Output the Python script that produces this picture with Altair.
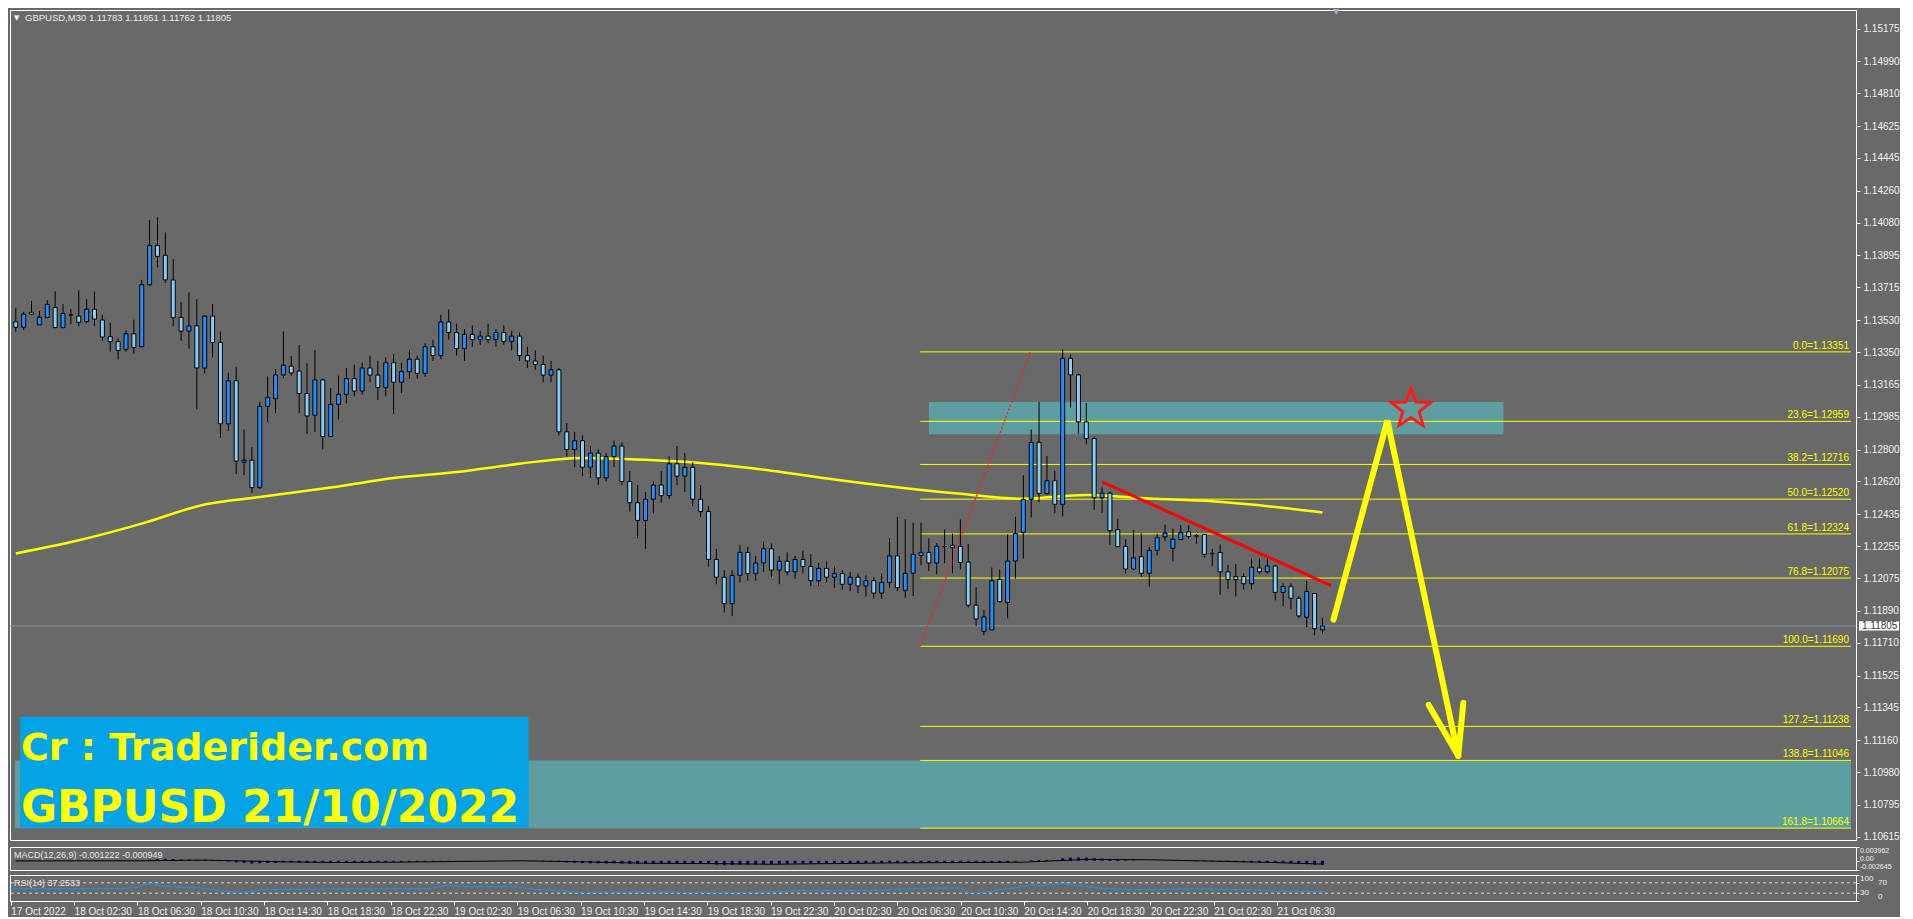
import altair as alt
import pandas as pd

# ---------------- data ----------------
time_labels = ["17 Oct 2022", "18 Oct 02:30", "18 Oct 06:30", "18 Oct 10:30", "18 Oct 14:30",
               "18 Oct 18:30", "18 Oct 22:30", "19 Oct 02:30", "19 Oct 06:30", "19 Oct 10:30",
               "19 Oct 14:30", "19 Oct 18:30", "19 Oct 22:30", "20 Oct 02:30", "20 Oct 06:30",
               "20 Oct 10:30", "20 Oct 14:30", "20 Oct 18:30", "20 Oct 22:30", "21 Oct 02:30",
               "21 Oct 06:30"]
label_bars = [0, 8, 16, 24, 32, 40, 48, 56, 64, 72, 80, 88, 96, 104, 112, 120, 128, 136, 144, 152, 160]

price_ticks = [1.15175, 1.14990, 1.14810, 1.14625, 1.14445, 1.14260, 1.14080, 1.13895, 1.13715,
               1.13530, 1.13350, 1.13165, 1.12985, 1.12800, 1.12620, 1.12435, 1.12255, 1.12075,
               1.11890, 1.11710, 1.11525, 1.11345, 1.11160, 1.10980, 1.10795, 1.10615]

opens = [
    1.13521, 1.13490, 1.13575, 1.13503, 1.13545, 1.13601, 1.13488, 1.13560, 1.13553, 1.13521,
    1.13592, 1.13531, 1.13437, 1.13409, 1.13365, 1.13453, 1.13380, 1.13730, 1.13951, 1.13896,
    1.13757, 1.13545, 1.13468, 1.13498, 1.13260, 1.13553, 1.13404, 1.12945, 1.13188, 1.12729,
    1.12740, 1.12585, 1.13044, 1.13088, 1.13221, 1.13271, 1.13243, 1.13116, 1.12994, 1.13193,
    1.12873, 1.13055, 1.13111, 1.13200, 1.13130, 1.13260, 1.13220, 1.13150, 1.13290, 1.13180,
    1.13240, 1.13310, 1.13230, 1.13380, 1.13330, 1.13520, 1.13460, 1.13370, 1.13450, 1.13420,
    1.13440, 1.13420, 1.13460, 1.13410, 1.13440, 1.13330, 1.13300, 1.13280, 1.13220, 1.13250,
    1.12900, 1.12800, 1.12850, 1.12700, 1.12780, 1.12640, 1.12760, 1.12820, 1.12620, 1.12500,
    1.12400, 1.12520, 1.12600, 1.12540, 1.12720, 1.12650, 1.12700, 1.12520, 1.12450, 1.12180,
    1.12080, 1.11930, 1.12090, 1.12220, 1.12100, 1.12160, 1.12240, 1.12120, 1.12170, 1.12110,
    1.12180, 1.12140, 1.12060, 1.12130, 1.12080, 1.12100, 1.12040, 1.12080, 1.12030, 1.12060,
    1.11990, 1.12050, 1.12200, 1.12005, 1.12102, 1.12202, 1.12220, 1.12160, 1.12252, 1.12259,
    1.12254, 1.12165, 1.11922, 1.11774, 1.11782, 1.12068, 1.11937, 1.12171, 1.12333, 1.12519,
    1.12840, 1.12552, 1.12624, 1.12491, 1.13315, 1.13221, 1.12956, 1.12862, 1.12528, 1.12554,
    1.12348, 1.12254, 1.12126, 1.12195, 1.12102, 1.12231, 1.12307, 1.12243, 1.12292, 1.12336,
    1.12313, 1.12320, 1.12213, 1.12219, 1.12110, 1.12083, 1.12084, 1.12043, 1.12132, 1.12110,
    1.12143, 1.11994, 1.12027, 1.11961, 1.11854, 1.11988, 1.11783]
highs = [
    1.13599, 1.13577, 1.13638, 1.13582, 1.13643, 1.13693, 1.13621, 1.13593, 1.13698, 1.13649,
    1.13691, 1.13560, 1.13516, 1.13428, 1.13472, 1.13533, 1.13757, 1.14096, 1.14111, 1.14025,
    1.13875, 1.13632, 1.13687, 1.13649, 1.13558, 1.13621, 1.13466, 1.13234, 1.13267, 1.12913,
    1.12814, 1.13070, 1.13212, 1.13254, 1.13466, 1.13328, 1.13389, 1.13287, 1.13361, 1.13201,
    1.13146, 1.13217, 1.13260, 1.13280, 1.13290, 1.13330, 1.13300, 1.13320, 1.13340, 1.13290,
    1.13360, 1.13330, 1.13400, 1.13420, 1.13560, 1.13590, 1.13510, 1.13480, 1.13500, 1.13470,
    1.13510, 1.13480, 1.13500, 1.13470, 1.13460, 1.13380, 1.13360, 1.13330, 1.13300, 1.13260,
    1.12950, 1.12900, 1.12880, 1.12820, 1.12800, 1.12780, 1.12850, 1.12840, 1.12680, 1.12600,
    1.12560, 1.12620, 1.12680, 1.12760, 1.12820, 1.12780, 1.12730, 1.12600, 1.12480, 1.12240,
    1.12120, 1.12120, 1.12260, 1.12250, 1.12200, 1.12280, 1.12270, 1.12200, 1.12220, 1.12200,
    1.12230, 1.12210, 1.12160, 1.12170, 1.12140, 1.12120, 1.12110, 1.12100, 1.12090, 1.12080,
    1.12100, 1.12300, 1.12420, 1.12407, 1.12388, 1.12388, 1.12300, 1.12272, 1.12349, 1.12326,
    1.12405, 1.12266, 1.12023, 1.11896, 1.12134, 1.12123, 1.12322, 1.12421, 1.12655, 1.12913,
    1.13068, 1.12764, 1.12681, 1.13365, 1.13337, 1.13227, 1.13063, 1.12873, 1.12587, 1.12563,
    1.12410, 1.12294, 1.12346, 1.12327, 1.12250, 1.12324, 1.12377, 1.12355, 1.12373, 1.12373,
    1.12324, 1.12320, 1.12239, 1.12265, 1.12150, 1.12154, 1.12102, 1.12184, 1.12184, 1.12198,
    1.12150, 1.12045, 1.12045, 1.11973, 1.12060, 1.11988, 1.11851]
lows = [
    1.13462, 1.13474, 1.13557, 1.13503, 1.13545, 1.13485, 1.13485, 1.13507, 1.13496, 1.13514,
    1.13496, 1.13413, 1.13352, 1.13308, 1.13352, 1.13341, 1.13380, 1.13722, 1.13828, 1.13739,
    1.13496, 1.13413, 1.13369, 1.13026, 1.13230, 1.13319, 1.12865, 1.12904, 1.12661, 1.12655,
    1.12556, 1.12578, 1.12954, 1.13006, 1.13203, 1.13216, 1.13006, 1.12888, 1.12899, 1.12801,
    1.12873, 1.12970, 1.13060, 1.13100, 1.13110, 1.13180, 1.13080, 1.13100, 1.13000, 1.13120,
    1.13200, 1.13200, 1.13210, 1.13300, 1.13310, 1.13420, 1.13330, 1.13300, 1.13380, 1.13390,
    1.13400, 1.13380, 1.13390, 1.13360, 1.13300, 1.13260, 1.13250, 1.13180, 1.13180, 1.12880,
    1.12760, 1.12700, 1.12650, 1.12640, 1.12600, 1.12620, 1.12700, 1.12600, 1.12450, 1.12300,
    1.12240, 1.12440, 1.12500, 1.12520, 1.12600, 1.12560, 1.12480, 1.12420, 1.12140, 1.12040,
    1.11880, 1.11860, 1.12050, 1.12060, 1.12060, 1.12110, 1.12080, 1.12040, 1.12090, 1.12070,
    1.12100, 1.12030, 1.12030, 1.12050, 1.12020, 1.12010, 1.12000, 1.11990, 1.11970, 1.11960,
    1.11960, 1.12020, 1.12000, 1.11964, 1.11973, 1.12147, 1.12115, 1.12097, 1.12158, 1.12101,
    1.12123, 1.11909, 1.11804, 1.11752, 1.11782, 1.11937, 1.11848, 1.12071, 1.12185, 1.12416,
    1.12502, 1.12545, 1.12440, 1.12423, 1.13037, 1.12888, 1.12830, 1.12460, 1.12443, 1.12263,
    1.12252, 1.12101, 1.12119, 1.12082, 1.12027, 1.12202, 1.12285, 1.12169, 1.12292, 1.12296,
    1.12268, 1.12191, 1.12141, 1.11981, 1.12014, 1.11972, 1.12010, 1.12010, 1.12099, 1.12101,
    1.11949, 1.11916, 1.11898, 1.11848, 1.11798, 1.11752, 1.11762]
closes = [
    1.13490, 1.13564, 1.13564, 1.13547, 1.13619, 1.13488, 1.13568, 1.13560, 1.13518, 1.13592,
    1.13536, 1.13435, 1.13409, 1.13359, 1.13453, 1.13376, 1.13730, 1.13951, 1.13890, 1.13757,
    1.13545, 1.13468, 1.13498, 1.13260, 1.13553, 1.13404, 1.12945, 1.13188, 1.12735, 1.12740,
    1.12585, 1.13044, 1.13094, 1.13221, 1.13276, 1.13232, 1.13116, 1.12989, 1.13193, 1.12873,
    1.13055, 1.13111, 1.13200, 1.13130, 1.13260, 1.13220, 1.13150, 1.13290, 1.13180, 1.13240,
    1.13310, 1.13230, 1.13380, 1.13330, 1.13520, 1.13460, 1.13370, 1.13450, 1.13420, 1.13440,
    1.13420, 1.13460, 1.13410, 1.13440, 1.13330, 1.13300, 1.13280, 1.13220, 1.13250, 1.12900,
    1.12800, 1.12850, 1.12700, 1.12780, 1.12640, 1.12760, 1.12820, 1.12620, 1.12500, 1.12400,
    1.12520, 1.12600, 1.12540, 1.12720, 1.12650, 1.12700, 1.12520, 1.12450, 1.12180, 1.12080,
    1.11930, 1.12090, 1.12220, 1.12100, 1.12160, 1.12240, 1.12120, 1.12170, 1.12110, 1.12180,
    1.12140, 1.12060, 1.12130, 1.12080, 1.12100, 1.12040, 1.12080, 1.12030, 1.12060, 1.11990,
    1.12050, 1.12200, 1.12020, 1.12102, 1.12209, 1.12220, 1.12160, 1.12254, 1.12252, 1.12246,
    1.12163, 1.11922, 1.11844, 1.11856, 1.12060, 1.11942, 1.12171, 1.12326, 1.12519, 1.12840,
    1.12552, 1.12624, 1.12491, 1.13315, 1.13221, 1.12956, 1.12862, 1.12528, 1.12554, 1.12342,
    1.12252, 1.12126, 1.12189, 1.12102, 1.12231, 1.12303, 1.12329, 1.12294, 1.12331, 1.12309,
    1.12313, 1.12209, 1.12213, 1.12110, 1.12066, 1.12066, 1.12043, 1.12136, 1.12110, 1.12143,
    1.11994, 1.12027, 1.11961, 1.11861, 1.11999, 1.11789, 1.11805]

ma_bars = [0, 8, 16, 24, 31, 41, 48, 56, 64, 72, 80, 88, 96, 104, 112, 120, 128, 136, 144, 152, 160, 166]
ma_vals = [1.12214, 1.12288, 1.12382, 1.12490, 1.12532, 1.12592, 1.12639, 1.12673, 1.12720, 1.12753,
           1.12742, 1.12720, 1.12681, 1.12631, 1.12587, 1.12550, 1.12522, 1.12544, 1.12524, 1.12508,
           1.12476, 1.12445]

fib_names = ["0.0", "23.6", "38.2", "50.0", "61.8", "76.8", "100.0", "127.2", "138.8", "161.8"]
fib_levels = [1.13351, 1.12959, 1.12716, 1.12520, 1.12324, 1.12075, 1.11690, 1.11238, 1.11046, 1.10664]
fib_start_bar = 114.9
fib_anchor_bars = [114.9, 128.9]
fib_anchor_prices = [1.11690, 1.13351]

zone_from = [116.0, -0.1]
zone_to = [189.0, 233.15]
zone_low = [1.12886, 1.10664]
zone_high = [1.13068, 1.11046]

trend_bars = [138.0, 167.1]
trend_prices = [1.12618, 1.12032]

arrow_seg = ["path", "path", "path", "barbL", "barbL", "barbR", "barbR"]
arrow_bars = [167.4, 174.25, 183.25, 179.5, 183.25, 183.9, 183.25]
arrow_prices = [1.11840, 1.12963, 1.11072, 1.11359, 1.11072, 1.11370, 1.11072]

star_bar = [177.25]
star_price = [1.13029]

shift_marker_bar = [167.75]

current_price = 1.11805
title_text = "GBPUSD,M30  1.11783 1.11851 1.11762 1.11805"

wm_box_bars = [0.55, 65.15]
wm_box_prices = [1.10668, 1.11293]
wm_lines = ["Cr : Traderider.com", "GBPUSD 21/10/2022"]
wm_line_prices = [1.11050, 1.10701]

macd_main = [
    -0.00010, -0.00008, -0.00005, -0.00004, -0.00002, 0.00000, 0.00002, 0.00003, 0.00005, 0.00007,
    0.00008, 0.00005, 0.00000, -0.00004, -0.00006, -0.00008,
    0.00005, 0.00030, 0.00050, 0.00058, 0.00050, 0.00040, 0.00035,
    0.00020, 0.00025, 0.00015, -0.00015, -0.00020, -0.00045, -0.00060, -0.00080,
    -0.00070, -0.00065, -0.00060, -0.00050, -0.00048, -0.00050, -0.00060, -0.00055, -0.00062, -0.00060,
    -0.00055, -0.00050, -0.00045, -0.00040, -0.00035,
    -0.00032, -0.00030, -0.00030, -0.00028, -0.00025, -0.00022, -0.00018, -0.00015, -0.00008, -0.00005,
    -0.00004, -0.00003, -0.00002, -0.00001, 0.00000, 0.00001, 0.00001, 0.00000, -0.00002, -0.00004,
    -0.00006, -0.00008, -0.00010,
    -0.00030, -0.00045, -0.00055, -0.00065, -0.00070, -0.00075, -0.00075, -0.00072, -0.00078, -0.00085,
    -0.00095, -0.00090, -0.00085, -0.00082, -0.00075, -0.00072, -0.00068, -0.00072, -0.00078, -0.00095,
    -0.00110, -0.00125,
    -0.00120, -0.00112, -0.00108, -0.00102, -0.00095, -0.00092, -0.00088, -0.00085, -0.00080, -0.00078,
    -0.00076, -0.00072, -0.00070, -0.00068, -0.00066, -0.00064, -0.00062, -0.00060, -0.00060, -0.00058,
    -0.00050, -0.00052,
    -0.00055, -0.00052, -0.00048, -0.00046, -0.00042, -0.00040, -0.00038, -0.00038, -0.00050, -0.00060,
    -0.00065, -0.00050, -0.00048, -0.00035, -0.00022, -0.00005, 0.00020, 0.00025, 0.00028, 0.00025,
    0.00070, 0.00090, 0.00095, 0.00092, 0.00075, 0.00062, 0.00045, 0.00030, 0.00018, 0.00008,
    0.00000, -0.00002, -0.00003, -0.00004, -0.00005, -0.00006, -0.00008, -0.00010, -0.00014, -0.00018,
    -0.00025, -0.00030, -0.00036, -0.00040, -0.00042, -0.00045, -0.00050, -0.00060, -0.00068, -0.00078,
    -0.00090, -0.00098, -0.00110, -0.00122]
sig_bars = [0, 8, 16, 24, 32, 40, 48, 56, 64, 72, 80, 88, 96, 104, 112, 120, 128, 136, 144, 152, 160, 166]
sig_vals = [-0.00005, 0.00000, 0.00000, 0.00020, -0.00020, -0.00050, -0.00040, -0.00020, 0.00000, -0.00030,
            -0.00070, -0.00080, -0.00100, -0.00080, -0.00060, -0.00050, -0.00040, 0.00040, 0.00030, -0.00010,
            -0.00050, -0.00095]
macd_ticks = [0.003962, 0.0, -0.002645]
macd_tick_labels = ["0.003962", "0.00", "-0.002645"]
macd_title = "MACD(12,26,9) -0.001222 -0.000949"

rsi_bars = [0, 8, 14, 16, 17, 18, 19, 22, 24, 27, 29, 30, 32, 36, 40, 48, 53, 55, 57, 60, 64, 66, 70, 72,
            74, 80, 86, 90, 95, 100, 108, 112, 116, 120, 121, 123, 125, 128, 129, 130, 131, 133, 134, 136,
            138, 142, 146, 150, 154, 158, 160, 163, 165, 166]
rsi_vals = [47, 47, 48, 52, 66, 66, 58, 52, 50, 37, 33, 34, 44, 45, 46, 47, 47, 60, 55, 55, 55, 45, 38, 32,
            34, 35, 33, 32, 34, 40, 40, 45, 50, 50, 33, 32, 44, 55, 62, 58, 62, 68, 62, 56,
            48, 44, 45, 47, 44, 42, 38, 37, 36, 37.25]
rsi_levels = [70, 30]
rsi_ticks = [100, 70, 30, 0]
rsi_tick_labels = ["100", "70", "30", "0"]
rsi_title = "RSI(14) 37.2533"

# ---------------- layout / style ----------------
W = 1846
H_PRICE = 830
H_MACD = 23
H_RSI = 26
X_MIN, X_MAX = -0.1, 233.15
P_MIN, P_MAX = 1.10597, 1.15280
BG = "#696969"
FONT = "Liberation Sans"
YELLOW = "#ffff00"
LABEL_COLOR = "#f2f2f2"
AX = dict(title=None, labelFont=FONT, labelColor=LABEL_COLOR, tickColor="#ffffff",
          domainColor="#ffffff", labelOverlap=False, grid=False)

xsc = alt.Scale(domain=[X_MIN, X_MAX], nice=False, zero=False)
psc = alt.Scale(domain=[P_MIN, P_MAX], nice=False, zero=False)
price_axis = alt.Axis(orient="right", values=price_ticks, format=".5f", tickSize=4, labelPadding=3,
                      labelFontSize=10, **AX)


def X(f):
    return alt.X(f, type="quantitative", scale=xsc, axis=None)


def Y(f):
    return alt.Y(f, type="quantitative", scale=psc, axis=price_axis)


N = len(opens)
candles = pd.DataFrame({"i": list(range(N)), "o": opens, "h": highs, "l": lows, "c": closes})
candles["dir"] = ["up" if c >= o else "down" for o, c in zip(opens, closes)]

zones = pd.DataFrame({"x0": zone_from, "x1": zone_to, "y0": zone_low, "y1": zone_high})
zone_layer = alt.Chart(zones).mark_rect(color="#5f9ea0").encode(
    x=X("x0"), x2="x1", y=Y("y0"), y2="y1")

cur_df = pd.DataFrame({"p": [current_price]})
cur_line = alt.Chart(cur_df).mark_rule(color="#8e98a6", strokeWidth=1).encode(y=Y("p"))

ma_df = pd.DataFrame({"i": ma_bars, "v": ma_vals})
ma_layer = alt.Chart(ma_df).mark_line(color=YELLOW, strokeWidth=2.5, interpolate="monotone").encode(
    x=X("i"), y=Y("v"))

fib_df = pd.DataFrame({"lvl": fib_levels,
                       "lab": [f"{n}={v:.5f}" for n, v in zip(fib_names, fib_levels)],
                       "x0": [fib_start_bar] * len(fib_levels),
                       "x1": [X_MAX] * len(fib_levels)})
fib_lines = alt.Chart(fib_df).mark_rule(color=YELLOW, strokeWidth=1).encode(
    x=X("x0"), x2="x1", y=Y("lvl"))
fib_text = alt.Chart(fib_df).mark_text(align="right", baseline="bottom", dx=-2, dy=-1,
                                       fontSize=10, font=FONT, color=YELLOW).encode(
    x=X("x1"), y=Y("lvl"), text="lab:N")

anchor_df = pd.DataFrame({"i": fib_anchor_bars, "p": fib_anchor_prices})
anchor_line = alt.Chart(anchor_df).mark_line(color="#ff2020", strokeWidth=1.5, strokeDash=[2, 2]).encode(
    x=X("i"), y=Y("p"))

wicks = alt.Chart(candles).mark_rule(color="black", strokeWidth=1, clip=True).encode(
    x=X("i"), y=Y("l"), y2="h")
bodies = alt.Chart(candles).mark_bar(size=4, stroke="black", strokeWidth=1, clip=True).encode(
    x=X("i"), y=Y("o"), y2="c",
    color=alt.Color("dir:N", scale=alt.Scale(domain=["up", "down"], range=["#1e90ff", "#87cefa"]),
                    legend=None))

trend_df = pd.DataFrame({"i": trend_bars, "p": trend_prices})
trend_layer = alt.Chart(trend_df).mark_line(color="#ff0000", strokeWidth=3).encode(x=X("i"), y=Y("p"))

arrow_df = pd.DataFrame({"seg": arrow_seg, "ord": list(range(len(arrow_seg))),
                         "i": arrow_bars, "p": arrow_prices})
arrow_layer = alt.Chart(arrow_df).mark_line(color=YELLOW, strokeWidth=6, strokeCap="round",
                                            strokeJoin="miter").encode(
    x=X("i"), y=Y("p"), detail="seg:N", order="ord:Q")

STAR = ("M0,-1L0.247,-0.34L0.951,-0.309L0.399,0.13L0.588,0.809L0,0.42"
        "L-0.588,0.809L-0.399,0.13L-0.951,-0.309L-0.247,-0.34Z")
star_df = pd.DataFrame({"i": star_bar, "p": star_price})
star_layer = alt.Chart(star_df).mark_point(shape=STAR, size=1700, filled=False, color="#ff1a1a",
                                           strokeWidth=3, opacity=1).encode(x=X("i"), y=Y("p"))

shift_df = pd.DataFrame({"i": shift_marker_bar})
shift_layer = alt.Chart(shift_df).mark_point(shape="triangle-down", size=45, filled=True,
                                             color="#9fb0c2", opacity=1).encode(
    x=X("i"), y=alt.value(2))

wm_box = pd.DataFrame({"x0": [wm_box_bars[0]], "x1": [wm_box_bars[1]],
                       "y0": [wm_box_prices[0]], "y1": [wm_box_prices[1]]})
wm_rect = alt.Chart(wm_box).mark_rect(color="#03a3e6").encode(x=X("x0"), x2="x1", y=Y("y0"), y2="y1")
wm_df = pd.DataFrame({"t": wm_lines, "p": wm_line_prices, "i": [wm_box_bars[0] + 0.1] * 2,
                      "fs": [38, 44]})
wm_text = alt.Chart(wm_df).mark_text(align="left", baseline="alphabetic", font="DejaVu Sans",
                                     fontWeight=900, color=YELLOW).encode(
    x=X("i"), y=Y("p"), text="t:N", size=alt.Size("fs:Q", scale=None, legend=None))

title_df = pd.DataFrame({"t": [title_text]})
title_layer = alt.Chart(title_df).mark_text(align="left", baseline="alphabetic", fontSize=9.5,
                                            font=FONT, color="#ececec").encode(
    x=alt.value(15), y=alt.value(11), text="t:N")
tri_df = pd.DataFrame({"t": ["\u25bc"]})
tri_layer = alt.Chart(tri_df).mark_text(align="left", baseline="alphabetic", fontSize=7,
                                        font="DejaVu Sans", color="#ffffff").encode(
    x=alt.value(4), y=alt.value(10), text="t:N")

plab = pd.DataFrame({"b0": [current_price - 0.00026], "b1": [current_price + 0.00026],
                     "p": [current_price], "t": [f"{current_price:.5f}"]})
plab_rect = alt.Chart(plab).mark_rect(color="#ffffff").encode(
    x=alt.value(W + 3), x2=alt.value(W + 43), y=Y("b0"), y2="b1")
plab_text = alt.Chart(plab).mark_text(align="left", baseline="middle", fontSize=10, font=FONT,
                                      color="#3a3a3a").encode(
    x=alt.value(W + 6), y=Y("p"), text="t:N")

price_chart = alt.layer(
    zone_layer, wm_rect, wm_text, cur_line, ma_layer, fib_lines, fib_text, anchor_line,
    wicks, bodies, trend_layer, arrow_layer, star_layer, shift_layer, title_layer, tri_layer,
    plab_rect, plab_text
).properties(width=W, height=H_PRICE)

# ---------------- MACD ----------------
msc = alt.Scale(domain=[macd_ticks[2], macd_ticks[0]], nice=False, zero=False)
macd_axis = alt.Axis(orient="right", values=macd_ticks, tickSize=3, labels=False, **AX)


def MY(f):
    return alt.Y(f, type="quantitative", scale=msc, axis=macd_axis)


macd_df = pd.DataFrame({"i": list(range(N)), "m": macd_main, "z": [0.0] * N})
macd_hist = alt.Chart(macd_df).mark_bar(color="#000080", size=3, clip=True).encode(
    x=X("i"), y=MY("m"), y2="z")
sig_df = pd.DataFrame({"i": sig_bars, "s": sig_vals})
macd_sig = alt.Chart(sig_df).mark_line(color="#000000", strokeWidth=1).encode(x=X("i"), y=MY("s"))
macd_t = alt.Chart(pd.DataFrame({"t": [macd_title]})).mark_text(
    align="left", baseline="middle", fontSize=9, font=FONT, color="#e6e6e6").encode(
    x=alt.value(4), y=alt.value(8), text="t:N")
mlab = pd.DataFrame({"v": macd_ticks, "t": macd_tick_labels})
macd_lab_layers = []
for k, (bl, dy) in enumerate([("top", 0), ("middle", -2), ("bottom", 0)]):
    macd_lab_layers.append(
        alt.Chart(mlab.iloc[[k]]).mark_text(align="left", baseline=bl, dy=dy, fontSize=7, font=FONT,
                                            color=LABEL_COLOR).encode(
            x=alt.value(W + 4), y=MY("v"), text="t:N"))
macd_chart = alt.layer(macd_hist, macd_sig, macd_t, *macd_lab_layers).properties(
    width=W, height=H_MACD)

# ---------------- RSI ----------------
rsc = alt.Scale(domain=[0, 100], nice=False, zero=False)
rsi_axis = alt.Axis(orient="right", values=rsi_ticks, tickSize=3, labels=False, **AX)


def RY(f):
    return alt.Y(f, type="quantitative", scale=rsc, axis=rsi_axis)


label_expr = "[" + ",".join(f"'{t}'" for t in time_labels) + "][round(datum.value / 8)]"
time_axis = alt.Axis(orient="bottom", values=label_bars, labelExpr=label_expr, tickSize=4,
                     labelPadding=1, labelAlign="left", labelBaseline="top", labelFontSize=10,
                     labelFlush=False, **AX)
rsi_df = pd.DataFrame({"i": rsi_bars, "r": rsi_vals})
lvl_df = pd.DataFrame({"v": rsi_levels})
rsi_lvls = alt.Chart(lvl_df).mark_rule(color="#d0d0d0", strokeWidth=1, strokeDash=[3, 3]).encode(
    y=RY("v"))
rsi_line = alt.Chart(rsi_df).mark_line(color="#1e90ff", strokeWidth=1).encode(
    x=alt.X("i", type="quantitative", scale=xsc, axis=time_axis), y=RY("r"))
rsi_t = alt.Chart(pd.DataFrame({"t": [rsi_title]})).mark_text(
    align="left", baseline="middle", fontSize=9, font=FONT, color="#e6e6e6").encode(
    x=alt.value(4), y=alt.value(8), text="t:N")
rlab = pd.DataFrame({"v": rsi_ticks, "t": rsi_tick_labels})
rsi_lab_layers = []
for k, (bl, xoff) in enumerate([("top", 4), ("middle", 22), ("middle", 4), ("bottom", 22)]):
    rsi_lab_layers.append(
        alt.Chart(rlab.iloc[[k]]).mark_text(align="left", baseline=bl, fontSize=8, font=FONT,
                                            color=LABEL_COLOR).encode(
            x=alt.value(W + xoff), y=RY("v"), text="t:N"))
rsi_chart = alt.layer(rsi_lvls, rsi_line, rsi_t, *rsi_lab_layers).properties(width=W, height=H_RSI)

chart = alt.vconcat(price_chart, macd_chart, rsi_chart, spacing=3, padding=0,
                    background=BG).configure_view(
    stroke="#ffffff", strokeWidth=1, fill=BG)

chart.save("out.html", embed_options={"renderer": "svg", "actions": False})
